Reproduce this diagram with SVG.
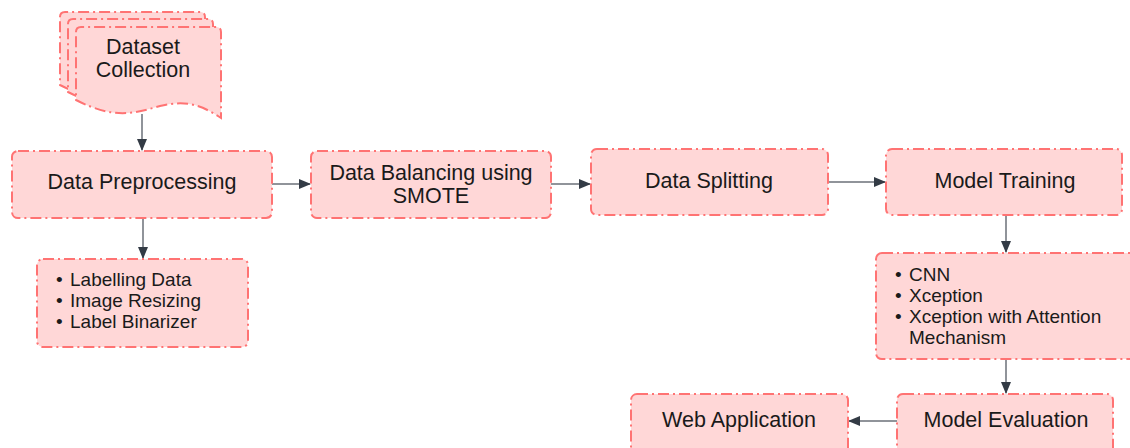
<svg xmlns="http://www.w3.org/2000/svg" width="1130" height="448" viewBox="0 0 1130 448">
<style>
.box{fill:#FFD7D7;stroke:#FF7373;stroke-width:2;stroke-dasharray:11 4 2 4}
.t{font-family:"Liberation Sans",Arial,sans-serif;font-size:21.5px;fill:#1a1a1a;text-anchor:middle}
.b{font-family:"Liberation Sans",Arial,sans-serif;font-size:19px;fill:#1a1a1a}
.c{fill:none;stroke:#6b7079;stroke-width:1.5}
</style>
<defs>
<marker id="ah" markerWidth="12" markerHeight="10" refX="11" refY="5" orient="auto" markerUnits="userSpaceOnUse">
<path d="M0,0 L12,5 L0,10 Z" fill="#333b45"/>
</marker>
</defs>
<g id="connectors">
<path class="c" d="M142,114 V150" marker-end="url(#ah)"/>
<path class="c" d="M272,184 H310" marker-end="url(#ah)"/>
<path class="c" d="M551,184 H590" marker-end="url(#ah)"/>
<path class="c" d="M828,182 H885" marker-end="url(#ah)"/>
<path class="c" d="M143,218 V258" marker-end="url(#ah)"/>
<path class="c" d="M1006,216 V252" marker-end="url(#ah)"/>
<path class="c" d="M1006,359 V393" marker-end="url(#ah)"/>
<path class="c" d="M897,421 H849" marker-end="url(#ah)"/>
</g>
<g id="dataset">
<path class="box" d="M60,17 Q60,12 65,12 L200,12 Q205,12 205,17 L205,103 C184,89 169,85 144,91 C119,98 99,105 60,85 Z"/>
<path class="box" d="M68,24 Q68,19 73,19 L208,19 Q213,19 213,24 L213,110 C192,96 177,92 152,98 C127,105 107,112 68,92 Z"/>
<path class="box" d="M76,32 Q76,27 81,27 L216,27 Q221,27 221,32 L221,118 C200,104 185,100 160,106 C135,113 115,120 76,100 Z"/>
<text class="t" x="143" y="54">Dataset</text>
<text class="t" x="143" y="77">Collection</text>
</g>
<g id="preprocessing">
<rect class="box" x="12" y="151" width="260" height="67" rx="6"/>
<text class="t" x="142" y="189">Data Preprocessing</text>
</g>
<g id="balancing">
<rect class="box" x="311" y="151" width="240" height="67" rx="6"/>
<text class="t" x="431" y="180">Data Balancing using</text>
<text class="t" x="431" y="203">SMOTE</text>
</g>
<g id="splitting">
<rect class="box" x="591" y="149" width="237" height="66" rx="6"/>
<text class="t" x="709" y="188">Data Splitting</text>
</g>
<g id="training">
<rect class="box" x="886" y="149" width="236" height="66" rx="6"/>
<text class="t" x="1005" y="188">Model Training</text>
</g>
<g id="preprocess-steps">
<rect class="box" x="37" y="259" width="211" height="88" rx="6"/>
<text class="b" x="56" y="286">•</text><text class="b" x="70" y="286">Labelling Data</text>
<text class="b" x="56" y="307">•</text><text class="b" x="70" y="307">Image Resizing</text>
<text class="b" x="56" y="328">•</text><text class="b" x="70" y="328">Label Binarizer</text>
</g>
<g id="models">
<rect class="box" x="876" y="253" width="262" height="106" rx="6"/>
<text class="b" x="895" y="281">•</text><text class="b" x="909" y="281">CNN</text>
<text class="b" x="895" y="302">•</text><text class="b" x="909" y="302">Xception</text>
<text class="b" x="895" y="323">•</text><text class="b" x="909" y="323">Xception with Attention</text>
<text class="b" x="909" y="344">Mechanism</text>
</g>
<g id="evaluation">
<rect class="box" x="897" y="394" width="216" height="66" rx="6"/>
<text class="t" x="1006" y="427">Model Evaluation</text>
</g>
<g id="webapp">
<rect class="box" x="631" y="394" width="217" height="66" rx="6"/>
<text class="t" x="739" y="427">Web Application</text>
</g>
</svg>
